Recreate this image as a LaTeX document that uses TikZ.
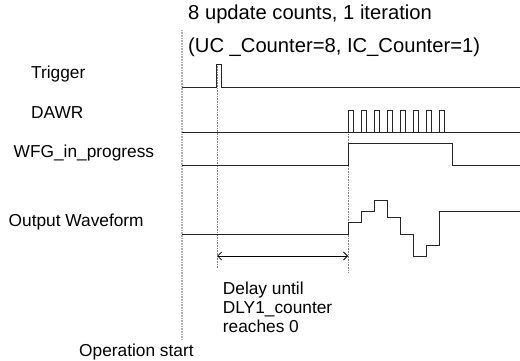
\documentclass[tikz,border=0pt]{standalone}
\usepackage{fontspec}
\setmainfont{Liberation Sans}
\usetikzlibrary{arrows.meta}

\tikzset{
  etiqueta/.style={inner sep=0pt, anchor=base west, font=\fontsize{17.3}{18.7}\selectfont},
  senal/.style={line width=0.9pt, black!85},
  guia/.style={gray, line width=0.7pt, dash pattern=on 0.8pt off 0.8pt},
}

\begin{document}
\begin{tikzpicture}[x=1pt, y=-1pt]
  \useasboundingbox (0,0) rectangle (520,361);

  % Textos
  \node[etiqueta, font=\fontsize{20.2}{22}\selectfont] (titulo) at (188,19.3) {8 update counts, 1 iteration};
  \node[etiqueta, font=\fontsize{20.2}{22}\selectfont] (cont) at (188,52.5) {(UC \_Counter=8, IC\_Counter=1)};
  \node[etiqueta] (trig) at (31,79) {Trigger};
  \node[etiqueta] (dawr) at (31,118) {DAWR};
  \node[etiqueta] (wfg) at (13.5,157.7) {WFG\_in\_progress};
  \node[etiqueta] (outw) at (8.5,226.7) {Output Waveform};
  \node[etiqueta, align=left] (retardo) at (222.7,332.3) {Delay until\\DLY1\_counter\\reaches 0};
  \node[etiqueta] (inicio) at (79,356) {Operation start};

  % Lineas guia
  \draw[guia, gray!60, line width=1.2pt] (182,30) -- (182,340);
  \draw[guia] (217,64) -- (217,268);
  \draw[guia] (348,110) -- (348,272);

  % Senales
  \draw[senal] (182,87) -- (216,87) -- (216,64) -- (221,64) -- (221,87) -- (520,87);
  \draw[senal] (182,132) -- (520,132);
  \foreach \k in {0,...,7}
    \draw[senal] (348+13*\k,132) -- (348+13*\k,110) -- (353+13*\k,110) -- (353+13*\k,132);
  \draw[senal] (182,165) -- (348,165) -- (348,143) -- (452,143) -- (452,165) -- (520,165);
  \draw[senal] (182,234) -- (348,234) -- (348,222) -- (361,222) -- (361,211) -- (374,211)
    -- (374,200) -- (387,200) -- (387,217) -- (400,217) -- (400,234) -- (413,234)
    -- (413,256) -- (426,256) -- (426,245) -- (439,245) -- (439,211) -- (520,211);

  % Cota del retardo
  \coordinate (a) at (217,256);
  \coordinate (b) at (348,256);
  \draw[<->, >={Straight Barb[length=4pt, width=8pt]}, line width=0.8pt] (a) -- (b);
\end{tikzpicture}
\end{document}
